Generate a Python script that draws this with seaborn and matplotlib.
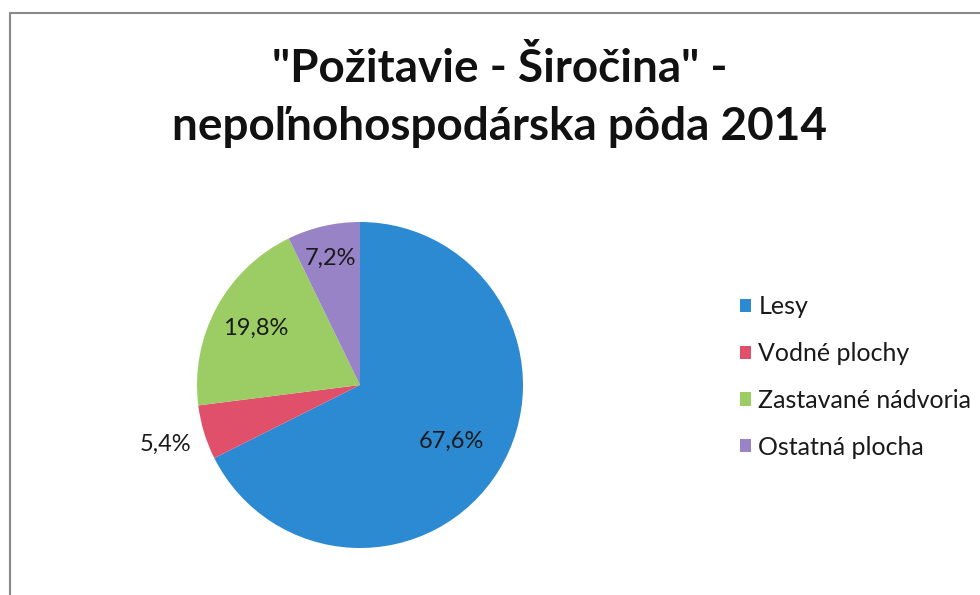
import numpy as np
import seaborn as sns
import matplotlib.pyplot as plt
from matplotlib.lines import Line2D
from matplotlib.patches import Patch

categories = ["Lesy", "Vodné plochy", "Zastavané nádvoria", "Ostatná plocha"]
shares = [67.6, 5.4, 19.8, 7.2]
title_lines = ['"Požitavie - Širočina" -', "nepoľnohospodárska pôda 2014"]

sns.set_theme(style="white")
plt.rcParams["font.family"] = ["Lato", "DejaVu Sans"]
colors = sns.color_palette(["#2C8AD3", "#E0506A", "#9CCC64", "#9783C6"])

fig = plt.figure(figsize=(9.8, 5.95), dpi=100)
fig.patch.set_facecolor("white")

# pie axis: center (360, 385) px, radius ~163 px
ax = fig.add_axes([(360 - 163) / 980, 1 - (385 + 163) / 595, 326 / 980, 326 / 595])
wedges, _ = ax.pie(shares, colors=colors, startangle=90, counterclock=False,
                   wedgeprops=dict(linewidth=0))
ax.set_aspect("equal")
ax.set_xlim(-1, 1)
ax.set_ylim(-1, 1)
ax.axis("off")

# percentage labels (comma decimal as in original)
label_r = [0.66, 1.25, 0.73, 0.80]
for w, val, r in zip(wedges, shares, label_r):
    ang = np.deg2rad((w.theta1 + w.theta2) / 2)
    ax.text(r * np.cos(ang), r * np.sin(ang), f"{val:.1f}%".replace(".", ","),
            ha="center", va="center", fontsize=17, color="#1a1a1a", clip_on=False)

fig.text(0.51, 1 - 68 / 595, title_lines[0], ha="center", va="center",
         fontsize=33, fontweight="bold", color="#111111")
fig.text(0.51, 1 - 127 / 595, title_lines[1], ha="center", va="center",
         fontsize=33, fontweight="bold", color="#111111")

handles = [Patch(facecolor=c, edgecolor="none") for c in colors]
fig.legend(handles, categories, loc="center left", bbox_to_anchor=(727 / 980, 1 - 377 / 595),
           frameon=False, borderpad=0, handlelength=0.45, handleheight=0.45,
           handletextpad=0.3, labelspacing=0.95, fontsize=18, labelcolor="#1a1a1a")

# chart border (top and left edges visible)
fig.add_artist(Line2D([10 / 980, 10 / 980], [0, 1 - 13 / 595], color="#8a8a8a", lw=1.5))
fig.add_artist(Line2D([10 / 980, 1], [1 - 13 / 595, 1 - 13 / 595], color="#8a8a8a", lw=1.5))

fig.savefig("out.png", dpi=100)
